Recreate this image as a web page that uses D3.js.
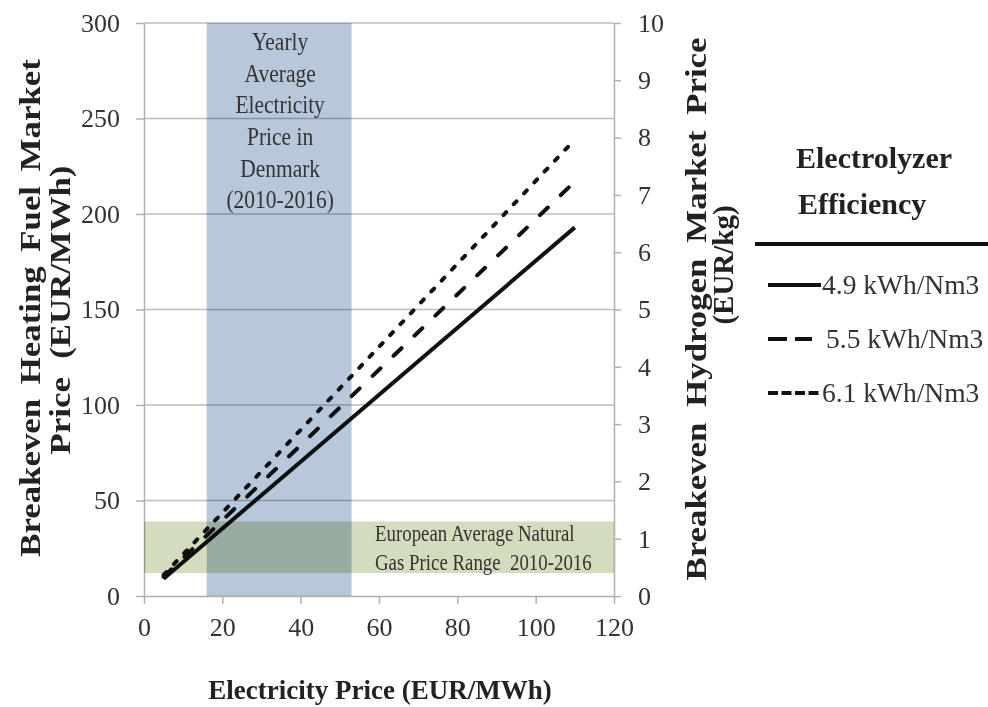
<!DOCTYPE html>
<html>
<head>
<meta charset="utf-8">
<script src="https://cdn.jsdelivr.net/npm/d3@7"></script>
<style>
  body { margin: 0; background: #fff; }
  svg { display: block; font-family: "Liberation Serif", "Times New Roman", serif; }
</style>
</head>
<body>
<svg id="chart" width="988" height="707"></svg>
<script>
// chart data
const elecPrice = [5, 110];
const series = [
  { label: "4.9 kWh/Nm3", values: [9, 193], dash: null, legendDash: null },
  { label: "5.5 kWh/Nm3", values: [10, 217], dash: "11,18", legendDash: "19,8" },
  { label: "6.1 kWh/Nm3", values: [11, 239], dash: "4,11", legendDash: "10,3.5" }
];
const xTicks = [0, 20, 40, 60, 80, 100, 120];
const yLeftTicks = [0, 50, 100, 150, 200, 250, 300];
const yRightTicks = [0, 1, 2, 3, 4, 5, 6, 7, 8, 9, 10];
const elecBand = [16, 53];     // EUR/MWh
const gasBand = [12, 39];      // EUR/MWh
const elecBandText = ["Yearly", "Average", "Electricity", "Price in", "Denmark", "(2010-2016)"];
const gasBandText = ["European Average Natural", "Gas Price Range  2010-2016"];

const svg = d3.select("#chart");
const plotL = 144, plotR = 614, plotT = 23, plotB = 596;

const x = d3.scaleLinear().domain([0, 120]).range([plotL, plotR]);
const y = d3.scaleLinear().domain([0, 300]).range([plotB, plotT]);
const y2 = d3.scaleLinear().domain([0, 10]).range([plotB, plotT]);

// gridlines
svg.append("g")
  .selectAll("line")
  .data(yLeftTicks.slice(1))
  .enter().append("line")
  .attr("x1", plotL).attr("x2", plotR)
  .attr("y1", d => y(d)).attr("y2", d => y(d))
  .attr("stroke", "#bdbdbd")
  .attr("stroke-width", 1.5);

// axes
function styleAxis(g) {
  g.select(".domain").attr("stroke", "#b0b0b0").attr("stroke-width", 1.5);
  g.selectAll(".tick line").attr("stroke", "#b0b0b0").attr("stroke-width", 1.5);
  g.selectAll(".tick text")
    .attr("fill", "#333")
    .style("font-size", "26px")
    .style("font-family", "Liberation Serif");
}

svg.append("g")
  .attr("transform", `translate(0,${plotB})`)
  .call(d3.axisBottom(x).tickValues(xTicks).tickSize(8).tickPadding(14).tickSizeOuter(0))
  .call(styleAxis);

svg.append("g")
  .attr("transform", `translate(${plotL},0)`)
  .call(d3.axisLeft(y).tickValues(yLeftTicks).tickSize(8).tickPadding(16).tickSizeOuter(0))
  .call(styleAxis);

svg.append("g")
  .attr("transform", `translate(${plotR},0)`)
  .call(d3.axisRight(y2).tickValues(yRightTicks).tickSize(7).tickPadding(17).tickSizeOuter(0))
  .call(styleAxis);

// lines
const line = d3.line()
  .x((d, i) => x(elecPrice[i]))
  .y(d => y(d));

svg.append("g")
  .selectAll("path")
  .data(series)
  .enter().append("path")
  .attr("d", d => line(d.values))
  .attr("fill", "none")
  .attr("stroke", "#111")
  .attr("stroke-width", 4)
  .attr("stroke-linecap", d => d.dash ? "round" : "butt")
  .attr("stroke-dasharray", d => d.dash);

// shaded bands (multiplied over the lines and grid)
svg.append("rect")
  .attr("x", plotL).attr("width", plotR - plotL)
  .attr("y", y(gasBand[1])).attr("height", y(gasBand[0]) - y(gasBand[1]))
  .attr("fill", "#d4dcbe")
  .style("mix-blend-mode", "multiply");

svg.append("rect")
  .attr("x", x(elecBand[0])).attr("width", x(elecBand[1]) - x(elecBand[0]))
  .attr("y", plotT).attr("height", plotB - plotT)
  .attr("fill", "#b8c8da")
  .style("mix-blend-mode", "multiply");

// band annotations (narrow, condensed look)
svg.append("text")
  .attr("transform", `translate(${x((elecBand[0] + elecBand[1]) / 2) + 1},0) scale(0.86,1)`)
  .attr("text-anchor", "middle")
  .attr("fill", "#333")
  .style("font-size", "25px")
  .selectAll("tspan")
  .data(elecBandText)
  .enter().append("tspan")
  .attr("x", 0)
  .attr("y", (d, i) => 50 + i * 31.7)
  .text(d => d);

svg.append("text")
  .attr("transform", "translate(375,0) scale(0.82,1)")
  .attr("fill", "#333")
  .style("font-size", "23px")
  .selectAll("tspan")
  .data(gasBandText)
  .enter().append("tspan")
  .attr("x", 0)
  .attr("y", (d, i) => 541 + i * 29)
  .style("white-space", "pre")
  .text(d => d);

// axis titles
svg.append("text")
  .attr("x", 380).attr("y", 699)
  .attr("text-anchor", "middle")
  .attr("fill", "#222")
  .style("font-size", "27px")
  .style("font-weight", "bold")
  .text("Electricity Price (EUR/MWh)");

// vertical titles look stretched along their reading direction
function vTitle(tx, ty, stretch, gap, txt) {
  return svg.append("text")
    .attr("transform", `translate(${tx},${ty}) rotate(-90) scale(${stretch},1)`)
    .attr("text-anchor", "middle")
    .attr("fill", "#222")
    .style("font-size", "29px")
    .style("font-weight", "bold")
    .style("word-spacing", gap + "px")
    .text(txt);
}
vTitle(40, 308, 1.2, 5, "Breakeven Heating Fuel Market");
vTitle(70, 310, 1.2, 8, "Price (EUR/MWh)");
vTitle(706, 309, 1.2, 6, "Breakeven Hydrogen Market Price");
vTitle(733, 265, 1, 0, "(EUR/kg)");

// legend
const legend = svg.append("g");
legend.append("text")
  .attr("x", 796).attr("y", 168)
  .attr("fill", "#222")
  .style("font-size", "30px")
  .style("font-weight", "bold")
  .text("Electrolyzer");
legend.append("text")
  .attr("x", 798).attr("y", 214)
  .attr("fill", "#222")
  .style("font-size", "30px")
  .style("font-weight", "bold")
  .text("Efficiency");
legend.append("line")
  .attr("x1", 755).attr("x2", 988)
  .attr("y1", 244).attr("y2", 244)
  .attr("stroke", "#111")
  .attr("stroke-width", 4);

const item = legend.selectAll("g.item")
  .data(series)
  .enter().append("g")
  .attr("class", "item")
  .attr("transform", (d, i) => `translate(0,${285 + i * 54})`);
item.append("line")
  .attr("x1", 768).attr("x2", (d, i) => i === 1 ? 812 : 821)
  .attr("y1", 0).attr("y2", 0)
  .attr("stroke", "#111")
  .attr("stroke-width", 4)
  .attr("stroke-dasharray", d => d.legendDash);
item.append("text")
  .attr("x", (d, i) => i === 1 ? 826 : 822)
  .attr("y", 9)
  .attr("fill", "#333")
  .style("font-size", "27.5px")
  .text(d => d.label);
</script>
</body>
</html>
